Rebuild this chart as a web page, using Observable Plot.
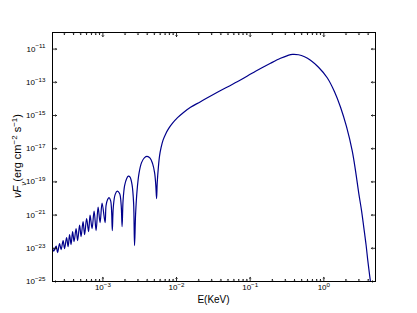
<!DOCTYPE html>
<html><head><meta charset="utf-8">
<script src="https://cdn.jsdelivr.net/npm/d3@7"></script>
<script src="https://cdn.jsdelivr.net/npm/@observablehq/plot@0.6"></script>
<style>body{margin:0;background:#fff} svg{display:block}</style>
</head><body><div id="chart"></div>
<script>
// log10 of energy (keV)
const logE = [
-3.683,-3.666,-3.635,-3.615,-3.588,-3.567,-3.540,-3.520,-3.493,-3.472,
-3.452,-3.432,-3.411,-3.391,-3.364,-3.343,-3.316,-3.296,-3.269,-3.248,
-3.221,-3.194,-3.174,-3.147,-3.119,-3.092,-3.065,-3.038,-3.011,-2.970,
-2.957,-2.936,-2.916,-2.895,-2.882,-2.872,-2.859,-2.834,-2.805,-2.773,
-2.752,-2.739,-2.726,-2.705,-2.678,-2.655,-2.631,-2.604,-2.583,-2.570,
-2.556,-2.536,-2.509,-2.475,-2.434,-2.400,-2.359,-2.325,-2.298,-2.282,
-2.271,
-2.262,-2.247,-2.230,-2.210,-2.183,-2.149,-2.108,-2.054,-1.986,-1.901,
-1.810,-1.674,-1.470,-1.176,-0.927,-0.724,-0.588,-0.493,-0.425,-0.344,
-0.262,-0.181,-0.072,0.046,0.145,0.227,0.308,0.385,0.430,0.475,
0.512,0.543,0.573,0.597,0.617,0.638];
// log10 of nuFnu (erg cm^-2 s^-1)
const logFlux = [
-22.954,-23.165,-22.864,-23.255,-22.714,-23.075,-22.533,-23.014,-22.353,-22.894,
-22.172,-22.774,-21.992,-22.593,-21.811,-22.533,-21.601,-22.292,-21.390,-22.172,
-21.209,-21.992,-20.999,-21.811,-20.758,-21.931,-20.517,-21.450,-20.277,-21.450,
-20.427,-20.066,-19.946,-20.126,-20.728,-21.931,-20.548,-19.765,-19.555,-19.705,
-20.367,-21.691,-20.126,-19.224,-18.803,-18.652,-18.712,-19.164,-20.247,-22.834,
-20.969,-19.525,-18.472,-17.840,-17.539,-17.467,-17.569,-17.900,-18.442,-19.164,
-20.006,
-19.043,-18.141,-17.419,-16.937,-16.486,-16.125,-15.794,-15.463,-15.132,-14.802,
-14.501,-14.170,-13.658,-12.966,-12.335,-11.853,-11.552,-11.390,-11.318,-11.342,
-11.462,-11.673,-12.094,-12.726,-13.568,-14.501,-15.674,-17.118,-18.321,-19.705,
-20.728,-21.751,-22.774,-23.736,-24.458,-25.181];

const xMajorTicks = [1e-3, 1e-2, 1e-1, 1];
const xMinorTicks = [3e-4,4e-4,5e-4,6e-4,7e-4,8e-4,9e-4,
  2e-3,3e-3,4e-3,5e-3,6e-3,7e-3,8e-3,9e-3,
  2e-2,3e-2,4e-2,5e-2,6e-2,7e-2,8e-2,9e-2,
  2e-1,3e-1,4e-1,5e-1,6e-1,7e-1,8e-1,9e-1,
  2,3,4];
const yMajorTicks = [1e-25,1e-23,1e-21,1e-19,1e-17,1e-15,1e-13,1e-11];
const xDomain = [2.07e-4, 5.03];
const yDomain = [1e-25, 1e-10];
const xLabel = "E(KeV)";

const data = logE.map((e, i) => ({E: 10 ** e, F: 10 ** logFlux[i]}));

const supMap = {"-":"⁻","0":"⁰","1":"¹","2":"²","3":"³","4":"⁴","5":"⁵","6":"⁶","7":"⁷","8":"⁸","9":"⁹"};
const unSup = {"⁻":"−","⁰":"0","¹":"1","²":"2","³":"3","⁴":"4","⁵":"5","⁶":"6","⁷":"7","⁸":"8","⁹":"9"};
const pow10 = v => "10" + String(Math.round(Math.log10(v))).split("").map(c => supMap[c]).join("");

const tickStyle = {stroke: "black", strokeWidth: 0.8, anchor: "start"};
const chart = Plot.plot({
  width: 417, height: 313,
  marginLeft: 52, marginRight: 42, marginTop: 32, marginBottom: 32,
  style: {fontFamily: "'Liberation Sans', Arial, sans-serif", fontSize: "8px", color: "black", background: "white"},
  x: {type: "log", domain: xDomain},
  y: {type: "log", domain: yDomain},
  marks: [
    Plot.line(data, {x: "E", y: "F", stroke: "#00008b", strokeWidth: 1.2, curve: "catmull-rom", clip: true}),
    // inward ticks on all four sides
    Plot.vector(xMajorTicks, {x: d => d, frameAnchor: "bottom", length: 4, rotate: 0, ...tickStyle}),
    Plot.vector(xMajorTicks, {x: d => d, frameAnchor: "top", length: 4, rotate: 180, ...tickStyle}),
    Plot.vector(xMinorTicks, {x: d => d, frameAnchor: "bottom", length: 2, rotate: 0, ...tickStyle}),
    Plot.vector(xMinorTicks, {x: d => d, frameAnchor: "top", length: 2, rotate: 180, ...tickStyle}),
    Plot.vector(yMajorTicks, {y: d => d, frameAnchor: "left", length: 4, rotate: 90, ...tickStyle}),
    Plot.vector(yMajorTicks, {y: d => d, frameAnchor: "right", length: 4, rotate: 270, ...tickStyle}),
    Plot.axisX({ticks: xMajorTicks, tickSize: 0, tickPadding: 3, tickFormat: pow10, label: null, fontSize: 8}),
    Plot.axisY({ticks: yMajorTicks, tickSize: 0, tickPadding: 7, tickFormat: pow10, label: null, fontSize: 8}),
    Plot.frame({stroke: "black", strokeWidth: 1})
  ]
});
document.getElementById("chart").appendChild(chart);

const svg = d3.select(chart);
// rebuild tick labels as base + raised exponent
svg.selectAll('g[aria-label$="tick label"] text').each(function() {
  const t = d3.select(this);
  const s = t.text();
  const base = s.slice(0, 2);
  const exp = s.slice(2).split("").map(c => unSup[c] || c).join("");
  t.text(null);
  t.append("tspan").text(base);
  t.append("tspan").attr("dy", "-3.2").attr("font-size", 6.2).text(exp);
});

svg.append("text")
  .attr("x", 213.5).attr("y", 302.5)
  .attr("text-anchor", "middle")
  .attr("font-size", 10)
  .attr("fill", "black")
  .text(xLabel);

const yl = svg.append("text")
  .attr("transform", "translate(21,156) rotate(-90)")
  .attr("text-anchor", "middle")
  .attr("font-size", 11)
  .attr("fill", "black");
yl.append("tspan").attr("font-style", "italic").text("νF");
yl.append("tspan").attr("font-style", "italic").attr("baseline-shift", "sub").attr("font-size", 8).text("ν");
yl.append("tspan").text("(erg cm");
yl.append("tspan").attr("baseline-shift", "super").attr("font-size", 8).text("−2");
yl.append("tspan").text(" s");
yl.append("tspan").attr("baseline-shift", "super").attr("font-size", 8).text("−1");
yl.append("tspan").text(")");
</script>
</body></html>
